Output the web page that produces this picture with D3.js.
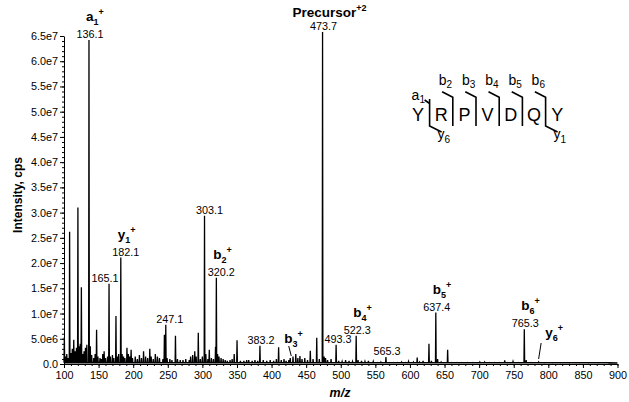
<!DOCTYPE html>
<html><head><meta charset="utf-8">
<script src="https://cdn.jsdelivr.net/npm/d3@7"></script>
<style>
body{margin:0;background:#fff}
text{font-family:Arial,"Liberation Sans",Helvetica,sans-serif;fill:#000}
</style>
</head><body>
<svg id="chart" width="629" height="402"></svg>
<script>
// ---- data (m/z, intensity in units of 1e6 cps) ----
const peakMz = [
 100.5,102.5,104,106,108.1,110,112,114.1,116,118,120.1,122,123.5,125.1,127,129,131,133,136.1,138,140,143,145,147.1,149,152,154,156,158,160,163,165.1,167,170,172,175.1,177,179,182.1,184,186,188,
 191,193,195,197,199,203,206,209,212,215,218,221,224,226,229,232,235,238,243,245.1,247.1,249,253,256,261.1,264,268,272,276,281,283,286,289,291,294.1,297,300,303.1,305,308,310,313,316,319,320.2,322,324,327,330,333,336,340,343,346,350.1,355,360,364,367,372,376,380,383.2,388,393,398,403,407,410.2,414,418,421,425,427,431,435,438,441,444,448,452,456,460,465.3,469,473.7,476,478,481,486,
 493.3,497,502,507,512,517,522.3,525,530,535,540,547,553,558,565.3,570,576,582,588,594,598,605,610.5,614,619,627.5,631,637.4,640,645,654.5,660,668,675,683,690,701,708,715,722,730,737,741,749,757,765.3,768,775,786,795,806,818,831,845,858,872,887
];
const peakIntensity = [
 5.3,1.5,2.0,1.2,26.2,2.2,3.0,4.8,2.5,3.2,31.0,3.5,4.0,15.2,2.0,2.5,3.2,3.8,64.2,3.5,1.8,1.2,2.0,6.8,1.5,1.2,1.0,2.0,2.5,1.2,1.5,15.9,1.5,1.8,1.2,9.5,1.5,2.0,21.1,2.0,1.5,1.2,
 3.2,2.0,1.5,2.8,1.2,1.5,1.0,1.8,1.2,2.5,1.5,1.2,3.0,1.5,1.0,2.0,1.5,1.2,1.0,5.8,7.8,1.2,1.0,0.8,5.6,1.0,0.8,0.8,1.0,0.8,1.5,1.8,2.5,1.5,6.2,1.0,1.5,29.4,2.0,1.0,2.8,1.2,1.0,3.4,17.1,2.0,1.5,1.2,1.0,0.8,0.6,0.8,1.0,2.0,4.7,0.6,0.6,0.8,0.8,0.6,0.8,0.6,3.6,0.8,0.6,0.8,0.6,1.0,3.3,0.8,1.0,0.6,0.8,1.2,1.5,2.0,1.2,1.6,1.0,1.2,0.8,2.6,1.0,5.2,1.0,65.8,1.5,1.2,0.8,1.0,
 3.8,0.6,0.5,0.8,0.6,0.5,5.6,0.8,0.6,0.5,0.6,0.5,0.3,0.4,1.4,0.3,0.3,0.3,0.4,0.3,0.5,0.4,1.3,0.4,0.6,4.0,0.6,10.2,1.0,0.4,2.8,0.3,0.3,0.3,0.3,0.3,0.4,0.4,0.3,0.3,0.3,0.7,0.3,0.5,0.3,6.9,0.8,0.3,0.4,0.2,0.2,0.2,0.2,0.2,0.2,0.2,0.2
];
// value labels above peaks
const valueLabelText = ["136.1","473.7","182.1","165.1","303.1","320.2","247.1","383.2","493.3","522.3","565.3","637.4","765.3"];
const valueLabelMz   = [136.1,473.7,182.1,165.1,303.1,320.2,247.1,383.2,493.3,522.3,565.3,637.4,765.3];
// fragment ion annotations
const ionName = ["a","y","b","b","b","b","b","y"];
const ionSub  = ["1","1","2","3","4","5","6","6"];
const ionMz   = [136.1,182.1,320.2,427,522.3,637.4,765.3,786];
const precursorText = "Precursor";
const precursorCharge = "+2";
const precursorMz = 473.7;
// axis ticks
const yTicks = [0,5,10,15,20,25,30,35,40,45,50,55,60,65];
const xTicks = [100,150,200,250,300,350,400,450,500,550,600,650,700,750,800,850,900];
// peptide
const peptide = ["Y","R","P","V","D","Q","Y"];

// ---- layout ----
const svg = d3.select("#chart");
const x = d3.scaleLinear().domain([100,900]).range([64,617.5]);
const y = d3.scaleLinear().domain([0,65]).range([364,36]);

function fmtY(d){
  if(d===0) return "0.0";
  const v = d*1e6;
  const e = Math.floor(Math.log10(v));
  return (v/Math.pow(10,e)).toFixed(1)+"e"+e;
}

// minor ticks
svg.append("g").attr("transform","translate(64,0)")
  .call(d3.axisLeft(y).tickValues(d3.range(0,65.001,1)).tickSize(2).tickFormat(""))
  .call(g=>g.select(".domain").remove());
svg.append("g").attr("transform","translate(0,364)")
  .call(d3.axisBottom(x).tickValues(d3.range(100,900.001,10)).tickSize(2).tickFormat(""))
  .call(g=>g.select(".domain").remove());
// major axes
svg.append("g").attr("transform","translate(64,0)")
  .call(d3.axisLeft(y).tickValues(yTicks).tickFormat(fmtY).tickSize(4).tickSizeOuter(0).tickPadding(2));
svg.append("g").attr("transform","translate(0,364)")
  .call(d3.axisBottom(x).tickValues(xTicks).tickSize(4).tickSizeOuter(0).tickPadding(3));
svg.selectAll(".tick text").attr("font-size",10.8).attr("font-family","Arial, Liberation Sans, sans-serif").attr("fill","#000");
svg.selectAll(".domain, .tick line").attr("stroke","#000");

// axis titles
svg.append("text").attr("transform","translate(22,195) rotate(-90)")
  .attr("text-anchor","middle").attr("font-weight","bold").attr("font-size",12).text("Intensity, cps");
svg.append("text").attr("x",340).attr("y",397).attr("text-anchor","middle")
  .attr("font-weight","bold").attr("font-style","italic").attr("font-size",12.5).text("m/z");

// spectrum trace
const pts = [[100,0.3]];
peakMz.forEach((m,i)=>{
  pts.push([m-0.5,0.25],[m,peakIntensity[i]],[m+0.5,0.25]);
});
pts.push([900,0.2]);
svg.append("path").datum(pts)
  .attr("d",d3.line().x(d=>x(d[0])).y(d=>y(d[1])))
  .attr("fill","none").attr("stroke","#000").attr("stroke-width",1.3);

function peakTop(m){
  let best=0;
  peakMz.forEach((p,i)=>{ if(Math.abs(p-m)<1.2 && peakIntensity[i]>best){best=peakIntensity[i];} });
  return best;
}
const valueDx = {"165.1":-4,"182.1":5,"303.1":5,"320.2":5,"247.1":4,"493.3":2,"765.3":1};
valueLabelText.forEach((t,i)=>{
  const m = valueLabelMz[i];
  svg.append("text").attr("x",x(m)+(valueDx[t]||1)).attr("y",y(peakTop(m))-2)
    .attr("text-anchor","middle").attr("font-size",10.8).text(t);
});

// ion labels
ionName.forEach((n,i)=>{
  const m = ionMz[i];
  let tx, ty;
  const px = x(m);
  if(ionSub[i]==="3" && n==="b"){ tx = px-6; ty = 343;
    svg.append("line").attr("x1",px-1.5).attr("y1",346).attr("x2",px+1).attr("y2",356).attr("stroke","#000");
  } else if(n==="y" && ionSub[i]==="6"){ tx = px+6.5; ty = 337;
    svg.append("line").attr("x1",px+2.5).attr("y1",343).attr("x2",px).attr("y2",359).attr("stroke","#000");
  } else {
    tx = px-3; ty = y(peakTop(m))-2-17;
  }
  const t = svg.append("text").attr("x",tx).attr("y",ty).attr("font-weight","bold").attr("font-size",13.5);
  t.append("tspan").text(n);
  t.append("tspan").attr("font-size",9).attr("dy",4).text(ionSub[i]);
  t.append("tspan").attr("font-size",9).attr("dy",-10).text("+");
});
// precursor
{
  const px = x(precursorMz);
  const t = svg.append("text").attr("x",px+7).attr("y",y(peakTop(precursorMz))-2-13)
    .attr("text-anchor","middle").attr("font-weight","bold").attr("font-size",13.5);
  t.append("tspan").text(precursorText);
  t.append("tspan").attr("font-size",9).attr("dy",-6).text(precursorCharge);
}

// peptide sequence diagram
const pg = svg.append("g");
const lx0 = 418, lsp = 23.2, base = 120.7;
peptide.forEach((aa,i)=>{
  pg.append("text").attr("x",lx0+i*lsp).attr("y",base).attr("text-anchor","middle")
    .attr("font-size",18).text(aa);
});
for(let i=0;i<peptide.length-1;i++){
  const vx = lx0+(i+0.5)*lsp;
  let d;
  if(i===0){
    d = `M${vx-5},100 L${vx},103.5 M${vx},99 L${vx},126 L${vx+12},132`;
  } else if(i===peptide.length-2){
    d = `M${vx-10.7},91.7 L${vx},97.3 L${vx},126 L${vx+12},132`;
  } else {
    d = `M${vx-10.7},91.7 L${vx},97.3 L${vx},126`;
  }
  pg.append("path").attr("d",d).attr("stroke","#000").attr("stroke-width",1.6).attr("fill","none");
  if(i>0){
    const bt = pg.append("text").attr("x",vx-14).attr("y",85).attr("font-size",14);
    bt.append("tspan").text("b");
    bt.append("tspan").attr("font-size",10).attr("dy",3).text(String(i+1));
  }
}
{
  const vx0 = lx0+0.5*lsp, vxl = lx0+(peptide.length-1.5)*lsp;
  const at = pg.append("text").attr("x",vx0-18).attr("y",100).attr("font-size",14);
  at.append("tspan").text("a"); at.append("tspan").attr("font-size",10).attr("dy",3).text("1");
  const y6 = pg.append("text").attr("x",vx0+8).attr("y",139).attr("font-size",14);
  y6.append("tspan").text("y"); y6.append("tspan").attr("font-size",10).attr("dy",4).text(String(peptide.length-1));
  const y1 = pg.append("text").attr("x",vxl+8).attr("y",139).attr("font-size",14);
  y1.append("tspan").text("y"); y1.append("tspan").attr("font-size",10).attr("dy",4).text("1");
}
</script>
</body></html>
